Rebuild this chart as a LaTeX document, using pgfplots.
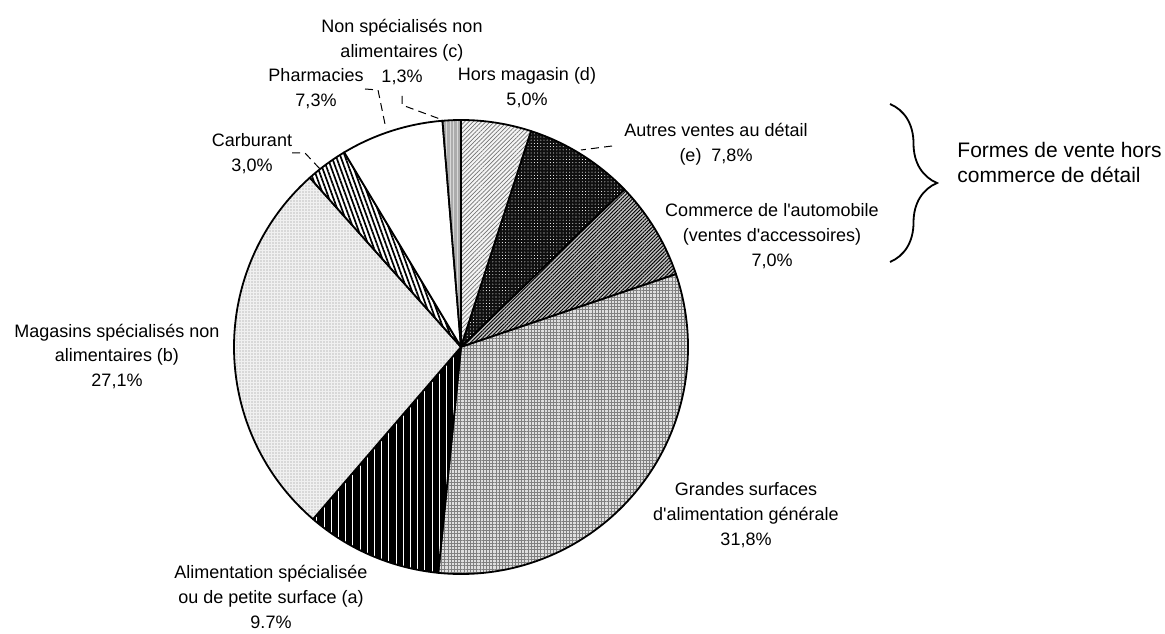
\documentclass[border=0pt]{standalone}
\usepackage{fontspec}
\setmainfont{Liberation Sans}
\usepackage{pgfplots}
\usepackage{pgfplotstable}
\pgfplotsset{compat=1.18}
\usetikzlibrary{patterns,patterns.meta,decorations.pathreplacing}

% Shares of each form of sale (%), clockwise from 12 o'clock
\pgfplotstableread{
value style
5.0  shors
7.8  sautres
7.0  sauto
31.8 sgrandes
9.7  saliment
27.1 smagasins
3.0  scarbu
7.3  spharma
1.3  snonspec
}\piedata

\tikzset{
  pieedge/.style={draw=black, line width=0.9pt, line join=round},
  shors/.style={preaction={fill=gray!8},
    preaction={pattern={Lines[angle=45,distance=1.5pt,line width=0.35pt]}, pattern color=black!55}},
  sautres/.style={preaction={fill=black!94},
    preaction={pattern={Dots[distance=1.6pt,radius=0.26pt]}, pattern color=white}},
  sauto/.style={preaction={fill=gray!50},
    preaction={pattern={Lines[angle=45,distance=1.3pt,line width=0.45pt]}, pattern color=black}},
  sgrandes/.style={preaction={fill=gray!25},
    preaction={pattern={Hatch[angle=0,distance=1.6pt,line width=0.35pt]}, pattern color=black!50}},
  saliment/.style={preaction={fill=black},
    preaction={pattern={Lines[angle=90,distance=3.6pt,line width=0.5pt]}, pattern color=white}},
  smagasins/.style={preaction={fill=gray!12},
    preaction={pattern={Dots[distance=1.5pt,radius=0.28pt]}, pattern color=black!45}},
  scarbu/.style={preaction={fill=white},
    preaction={pattern={Lines[angle=110,distance=2.1pt,line width=0.85pt]}, pattern color=black}},
  spharma/.style={preaction={fill=white}},
  snonspec/.style={preaction={fill=gray!65},
    preaction={pattern={Lines[angle=90,distance=1.8pt,line width=0.35pt]}, pattern color=white!85!black}},
  lbl/.style={font=\fontsize{9}{12.4}\selectfont, align=center, inner sep=0pt},
  leader/.style={black, line width=0.5pt, dash pattern=on 4pt off 2.6pt},
}

\begin{document}
\begin{tikzpicture}
\begin{axis}[
  at={(0,0)}, anchor=south west,
  x=0.5pt, y=0.5pt,
  xmin=0, xmax=1165, ymin=0, ymax=633,
  enlargelimits=false,
  hide axis, clip=false,
]
% pie slices, built from the cumulative shares
\def\cum{0}
\pgfplotsforeachungrouped \i in {0,...,8} {
  \pgfplotstablegetelem{\i}{value}\of\piedata \let\v\pgfplotsretval
  \pgfplotstablegetelem{\i}{style}\of\piedata \let\s\pgfplotsretval
  \pgfmathsetmacro\a{90-3.6*\cum}
  \pgfmathsetmacro\b{90-3.6*(\cum+\v)}
  \edef\cmd{\noexpand\draw[pieedge,\s] (axis cs:461,286) -- ++(\a:113.5pt)
    arc[start angle=\a, end angle=\b, radius=113.5pt] -- cycle;}
  \cmd
  \pgfmathsetmacro\cum{\cum+\v}
}

% leader lines
\draw[leader] (axis cs:402,537) -- (axis cs:402,528) -- (axis cs:440,514);
\draw[leader] (axis cs:365,544) -- (axis cs:378,543) -- (axis cs:386,504);
\draw[leader] (axis cs:292,480) -- (axis cs:305,480) -- (axis cs:320,464);
\draw[leader] (axis cs:612,487) -- (axis cs:581,483);

% slice labels
\node[lbl] at (axis cs:402,581) {Non spécialisés non\\alimentaires (c)\\1,3\%};
\node[lbl] at (axis cs:316,544.5) {Pharmacies\\7,3\%};
\node[lbl] at (axis cs:527,545.5) {Hors magasin (d)\\5,0\%};
\node[lbl] at (axis cs:252,479) {Carburant\\3,0\%};
\node[lbl] at (axis cs:716,488.5) {Autres ventes au détail\\(e)\ \ 7,8\%};
\node[lbl] at (axis cs:772,397) {Commerce de l\textquotesingle automobile\\(ventes d\textquotesingle accessoires)\\7,0\%};
\node[lbl] at (axis cs:746,118) {Grandes surfaces\\d\textquotesingle alimentation générale\\31,8\%};
\node[lbl] at (axis cs:117,276.5) {Magasins spécialisés non\\alimentaires (b)\\27,1\%};
\node[lbl] at (axis cs:271,36) {Alimentation spécialisée\\ou de petite surface (a)\\9.7\%};

% brace grouping the non-retail forms of sale
\draw[decorate, decoration={brace, amplitude=23.5pt}, line width=0.9pt]
  (axis cs:890,529) -- (axis cs:890,371);
\node[font=\fontsize{10.5}{12.6}\selectfont, align=left, anchor=west, inner sep=0pt]
  at (axis cs:957,470.5) {Formes de vente hors\\commerce de détail};
\end{axis}
\pgfresetboundingbox
\path[use as bounding box] (0,0) rectangle (582.5pt,316.5pt);
\end{tikzpicture}
\end{document}
